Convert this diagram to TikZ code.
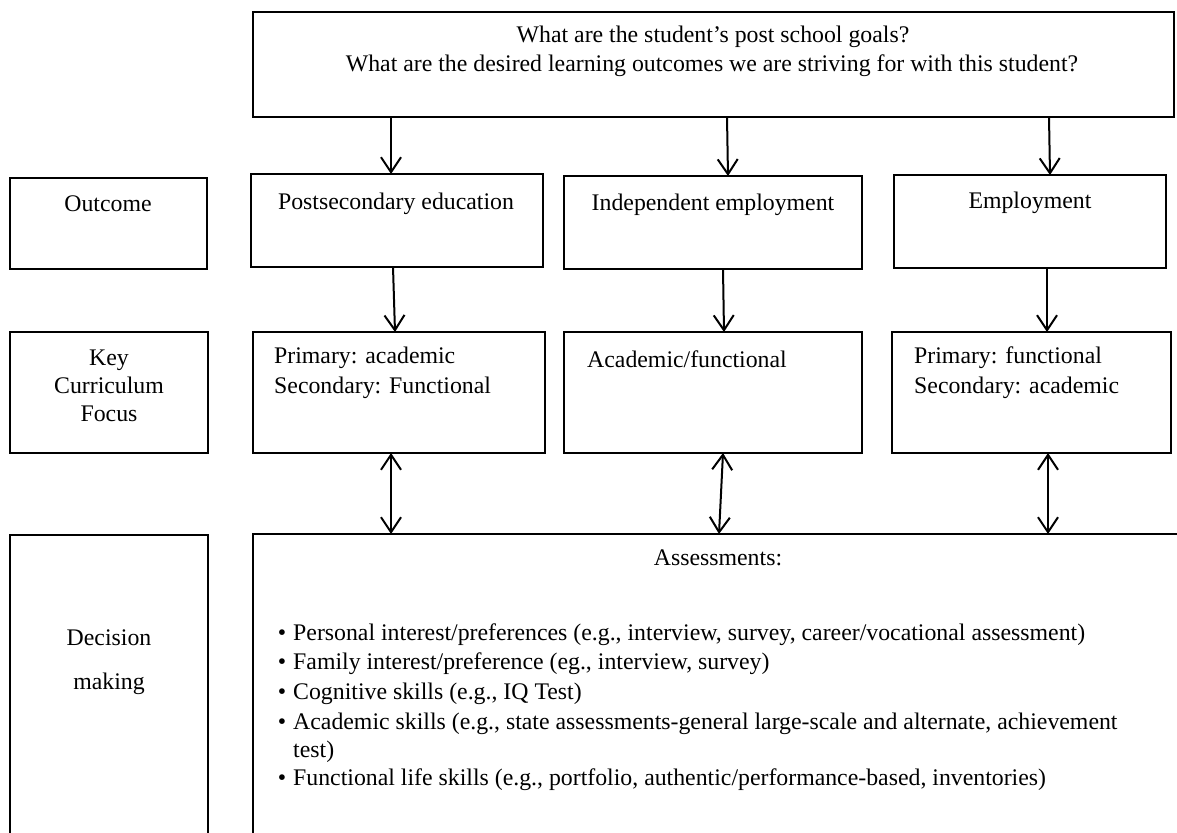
\documentclass[tikz,border=0pt]{standalone}
\usepackage{fontspec}
\setmainfont{Liberation Serif}
\usetikzlibrary{arrows.meta}
\begin{document}
\begin{tikzpicture}[x=1pt,y=-1pt,
  box/.style={draw, line width=2.6pt, anchor=north west, inner sep=0pt, outer sep=0pt},
  txt/.style={font=\fontsize{23.8}{29}\selectfont, inner sep=0pt, anchor=base},
  ltxt/.style={txt, anchor=base west},
  barb/.tip={Straight Barb[length=15pt,width=20pt,line width=2pt]},
  flow/.style={line width=2pt, -barb},
  both/.style={line width=2pt, barb-barb}]
\useasboundingbox (0,0) rectangle (1177,832);
\clip (0,0) rectangle (1177,832);

% guiding question
\node[box, minimum width=921pt, minimum height=105pt] (goals) at (253,12) {};
\node[txt] at (713,43) {What are the student’s post school goals?};
\node[txt] at (712,72) {What are the desired learning outcomes we are striving for with this student?};

% row labels
\node[box, minimum width=197pt, minimum height=91pt] (outlbl) at (10,178) {};
\node[txt] at (108,211) {Outcome};
\node[box, minimum width=198pt, minimum height=121pt] (keylbl) at (10,332) {};
\node[txt] at (109,365) {Key};
\node[txt] at (109,393) {Curriculum};
\node[txt] at (109,421) {Focus};
\node[box, minimum width=198pt, minimum height=320pt] (declbl) at (10,535) {};
\node[txt] at (109,645) {Decision};
\node[txt] at (109,689) {making};

% outcomes
\node[box, minimum width=292pt, minimum height=93pt] (post) at (251,174) {};
\node[txt] at (396,209) {Postsecondary education};
\node[box, minimum width=298pt, minimum height=93pt] (indep) at (564,176) {};
\node[txt] at (713,210) {Independent employment};
\node[box, minimum width=272pt, minimum height=93pt] (empl) at (894,175) {};
\node[txt] at (1030,208) {Employment};

% curriculum focus
\node[box, minimum width=292pt, minimum height=121pt] (acad) at (253,332) {};
\node[ltxt] at (274,363) {Primary: academic};
\node[ltxt] at (274,393) {Secondary: Functional};
\node[box, minimum width=298pt, minimum height=121pt] (mixed) at (564,332) {};
\node[ltxt] at (587,367) {Academic/functional};
\node[box, minimum width=279pt, minimum height=121pt] (func) at (892,332) {};
\node[ltxt] at (914,363) {Primary: functional};
\node[ltxt] at (914,393) {Secondary: academic};

% assessments
\node[box, minimum width=940pt, minimum height=320pt] (assess) at (253,534) {};
\node[txt] at (718,565) {Assessments:};
\node[txt] at (282,640) {\textbullet};
\node[ltxt] at (293,640) {Personal interest/preferences (e.g., interview, survey, career/vocational assessment)};
\node[txt] at (282,669) {\textbullet};
\node[ltxt] at (293,669) {Family interest/preference (eg., interview, survey)};
\node[txt] at (282,699) {\textbullet};
\node[ltxt] at (293,699) {Cognitive skills (e.g., IQ Test)};
\node[txt] at (282,729) {\textbullet};
\node[ltxt] at (293,729) {Academic skills (e.g., state assessments-general large-scale and alternate, achievement};
\node[ltxt] at (293,757) {test)};
\node[txt] at (282,785) {\textbullet};
\node[ltxt] at (293,785) {Functional life skills (e.g., portfolio, authentic/performance-based, inventories)};

% connectors
\draw[flow] (goals.south -| 391,0) -- (post.north -| 391,0);
\draw[flow] (goals.south -| 727,0) -- (indep.north -| 728,0);
\draw[flow] (goals.south -| 1049,0) -- (empl.north -| 1050,0);
\draw[flow] (post.south -| 393,0) -- (acad.north -| 395,0);
\draw[flow] (indep.south -| 723,0) -- (mixed.north -| 724,0);
\draw[flow] (empl.south -| 1047,0) -- (func.north -| 1047,0);
\draw[both] (acad.south -| 391,0) -- (assess.north -| 391,0);
\draw[both] (mixed.south -| 723,0) -- (assess.north -| 719,0);
\draw[both] (func.south -| 1048,0) -- (assess.north -| 1048,0);
\end{tikzpicture}
\end{document}
